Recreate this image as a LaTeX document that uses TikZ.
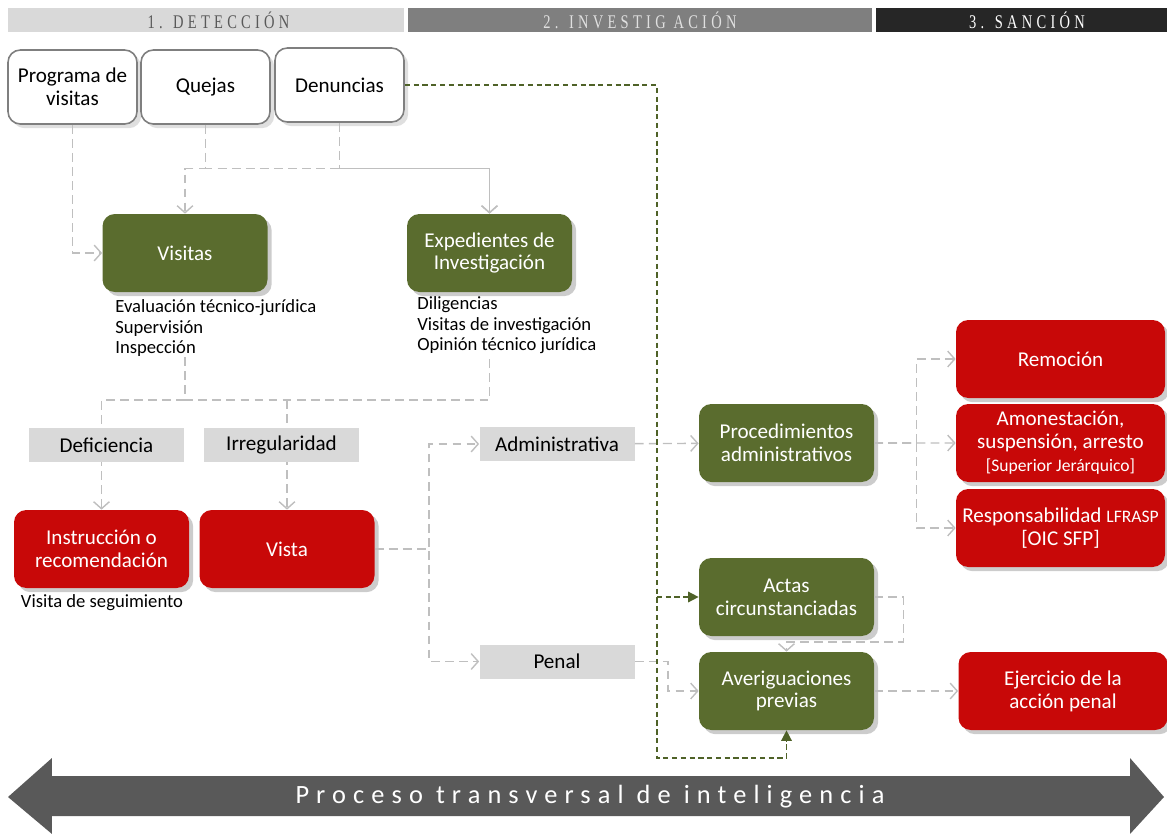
\documentclass[tikz,border=0pt]{standalone}
\usepackage{fontspec}
\setmainfont{Carlito}
\newfontfamily\hdfont[LetterSpace=22,FakeStretch=0.75]{Liberation Serif}
\newfontfamily\barfont[LetterSpace=27]{Carlito}
\usetikzlibrary{shadows, arrows.meta}
\definecolor{invgreen}{HTML}{5A6C2E}
\definecolor{sanred}{HTML}{C80808}
\definecolor{feedgreen}{HTML}{4F6228}
\definecolor{linkgray}{HTML}{BFBFBF}
\definecolor{taggray}{HTML}{D9D9D9}
\definecolor{midgray}{HTML}{7F7F7F}
\definecolor{darkbar}{HTML}{262626}
\definecolor{arrowgray}{HTML}{595959}
\tikzstyle{phase} = [rectangle,minimum height=0.48cm,inner sep=0pt,font=\hdfont\fontsize{11}{12}\selectfont]
\tikzstyle{src} = [rectangle,rounded corners=7pt,draw=midgray,line width=0.9pt,fill=white,minimum width=2.58cm,minimum height=1.48cm,align=center,font=\fontsize{12}{13}\selectfont,drop shadow={opacity=0.25}]
\tikzstyle{invbox} = [rectangle,rounded corners=7pt,fill=invgreen,text=white,minimum width=3.5cm,minimum height=1.56cm,align=center,font=\fontsize{12}{13}\selectfont,drop shadow={opacity=0.4}]
\tikzstyle{sanbox} = [invbox,fill=sanred]
\tikzstyle{tag} = [rectangle,fill=taggray,minimum width=3.1cm,minimum height=0.68cm,font=\fontsize{12}{13}\selectfont]
\tikzstyle{notes} = [align=left,inner sep=0pt,font=\fontsize{10.6}{11.8}\selectfont]
\tikzstyle{link} = [draw=linkgray,line width=0.8pt,dash pattern=on 5pt off 3pt,>={Straight Barb[length=4pt,width=9pt]}]
\tikzstyle{feed} = [draw=feedgreen,line width=0.9pt,dash pattern=on 3pt off 2pt,>={Triangle[length=6pt,width=6pt]}]

\begin{document}
\begin{tikzpicture}
\useasboundingbox (0,0) rectangle (23.34,-16.68);

% phases
\node [phase,fill=taggray,text=arrowgray,minimum width=7.92cm](h1) at (4.12,-0.40){};
\node [phase,text=arrowgray] at (4.37,-0.40){1. DETECCIÓN};
\node [phase,fill=midgray,text=white!88!black,minimum width=9.28cm](h2) at (12.80,-0.40){2. INVESTIG ACIÓN};
\node [phase,fill=darkbar,text=white,minimum width=5.82cm](h3) at (20.43,-0.40){};
\node [phase,text=white] at (20.54,-0.40){3. SANCIÓN};

% sources
\node [src](pv) at (1.45,-1.74){Programa de\\visitas};
\node [src](q) at (4.11,-1.74){Quejas};
\node [src](d) at (6.79,-1.70){Denuncias};

\node [invbox,minimum width=3.3cm](v1) at (3.70,-5.06){Visitas};
\node [invbox,minimum width=3.3cm](e1) at (9.79,-5.06){Expedientes de\\Investigación};
\node [notes,anchor=north west](vt) at (2.30,-5.98){Evaluación técnico-jurídica\\Supervisión\\Inspección};
\node [notes,anchor=north west](et) at (8.34,-5.92){Diligencias\\Visitas de investigación\\Opinión técnico jurídica};

\draw[link,->](pv) |- (v1);
\draw[link,->](q.south) -- ++(0,-0.88) -| (v1);
\draw[link,->](q.south) -- ++(0,-0.88) -| (e1);
\draw[link,->](d.south) -- ++(0,-0.92) -| (e1);

\node [sanbox](in1) at (2.03,-10.98){Instrucción o\\recomendación};
\node [sanbox](vs) at (5.74,-10.98){Vista};
\node [notes](st) at (2.04,-12.06){Visita de seguimiento};

\coordinate (jn) at (5.74,-8.0);
\draw[link](v1 |- vt.south) -- (v1 |- jn) -- (e1 |- jn) -- (e1 |- et.south);
\draw[link,->](v1 |- jn) -| (in1);
\draw[link,->](jn) -- (vs);

\node [tag](df) at (2.13,-8.90){Deficiencia};
\node [tag](ir) at (5.63,-8.90){Irregularidad};
\node [tag](ad) at (11.14,-8.88){Administrativa};
\node [tag](pe) at (11.14,-13.23){Penal};

\draw[link,->](vs.east) -- ++(1.08,0) |- (ad);
\draw[link,->](vs.east) -- ++(1.08,0) |- (pe);

% investigation
\node [invbox](pa) at (15.73,-8.86){Procedimientos\\administrativos};
\node [invbox](ac) at (15.73,-11.94){Actas\\circunstanciadas};
\node [invbox,below of=ac,yshift=-0.88cm](av){Averiguaciones\\previas};

% sanctions
\node [sanbox,minimum width=4.18cm](r1) at (21.21,-7.18){Remoción};
\node [sanbox,minimum width=4.18cm,below of=r1,yshift=-0.68cm](r2){Amonestación,\\suspensión, arresto\\{\fontsize{10}{11}\selectfont [Superior Jerárquico]}};
\node [sanbox,minimum width=4.18cm,below of=r2,yshift=-0.70cm](r3){Responsabilidad {\fontsize{10}{11}\selectfont LFRASP}\\{[OIC SFP]}};
\node [sanbox,minimum width=4.18cm](ej) at (21.26,-13.82){Ejercicio de la\\acción penal};

\draw[link,->](ad) -- (pa);
\draw[link,->](pa.east) -- ++(0.84,0) |- (r1);
\draw[link,->](pa) -- (r2);
\draw[link,->](pa.east) -- ++(0.84,0) |- (r3);
\draw[link,->](ac.east) -- ++(0.58,0) -- ++(0,-0.90) -| (av.north);
\draw[link,->](pe.east) -- ++(0.66,0) |- (av);
\draw[link,->](av) -- (ej);

\draw[feed,->](d.east) -- ++(5.04,0) coordinate (g1) -- ++(0,-13.46) -| (av.south);
\draw[feed,->](g1 |- ac.west) -- (ac.west);

% transversal process
\fill[arrowgray] (1.04,-15.52) -- (1.04,-15.16) -- (0.16,-15.94) -- (1.04,-16.68) -- (1.04,-16.32)
  -- (22.60,-16.32) -- (22.60,-16.68) -- (23.28,-15.94) -- (22.60,-15.16) -- (22.60,-15.52) -- cycle;
\node [text=white,font=\barfont\fontsize{15}{16}\selectfont](pt) at (11.80,-15.94){Proceso transversal de inteligencia};

\end{tikzpicture}
\end{document}
